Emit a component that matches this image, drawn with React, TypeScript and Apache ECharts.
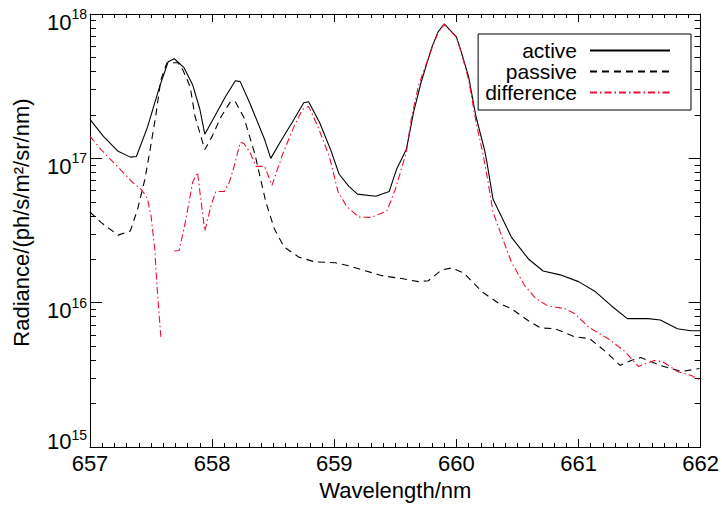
import React, { useEffect, useRef } from 'react';
import * as echarts from 'echarts';

// Wavelength (nm) and radiance (ph/s/m^2/sr/nm)
const activeWl = [657.0, 657.11, 657.23, 657.33, 657.38, 657.47, 657.57, 657.64, 657.69, 657.77, 657.84, 657.9, 657.94, 658.02, 658.11, 658.19, 658.23, 658.31, 658.43, 658.48, 658.57, 658.66, 658.75, 658.79, 658.88, 658.97, 659.04, 659.12, 659.19, 659.34, 659.45, 659.51, 659.59, 659.65, 659.71, 659.8, 659.85, 659.9, 660.0, 660.04, 660.1, 660.16, 660.23, 660.25, 660.3, 660.36, 660.45, 660.59, 660.71, 660.85, 661.0, 661.14, 661.27, 661.4, 661.57, 661.67, 661.81, 661.92, 662.0];
const activeVal = [1.86e17, 1.42e17, 1.12e17, 1.02e17, 1.03e17, 1.64e17, 3.14e17, 4.67e17, 4.9e17, 4.25e17, 3.24e17, 2.18e17, 1.47e17, 1.95e17, 2.68e17, 3.45e17, 3.4e17, 2.4e17, 1.35e17, 1.0e17, 1.35e17, 1.8e17, 2.43e17, 2.47e17, 1.77e17, 1.15e17, 7.76e16, 6.4e16, 5.65e16, 5.47e16, 5.9e16, 8.4e16, 1.15e17, 2.1e17, 3.34e17, 5.92e17, 7.52e17, 8.53e17, 6.94e17, 5.47e17, 3.68e17, 1.95e17, 1.15e17, 9.4e16, 5.2e16, 4.1e16, 2.85e16, 2.01e16, 1.66e16, 1.56e16, 1.4e16, 1.19e16, 9.5e15, 7.76e15, 7.76e15, 7.6e15, 6.6e15, 6.4e15, 6.4e15];

const passiveWl = [657.0, 657.09, 657.23, 657.33, 657.39, 657.45, 657.49, 657.54, 657.58, 657.63, 657.72, 657.76, 657.82, 657.86, 657.94, 658.0, 658.07, 658.15, 658.19, 658.26, 658.35, 658.44, 658.51, 658.59, 658.71, 658.84, 659.01, 659.12, 659.26, 659.39, 659.55, 659.69, 659.77, 659.88, 659.96, 660.06, 660.21, 660.34, 660.45, 660.59, 660.69, 660.81, 660.97, 661.09, 661.22, 661.34, 661.43, 661.51, 661.67, 661.84, 661.99];
const passiveVal = [4.25e16, 3.6e16, 2.94e16, 3.14e16, 4.45e16, 7.2e16, 1.12e17, 2.01e17, 3.5e17, 4.6e17, 4.6e17, 4.1e17, 3.14e17, 1.95e17, 1.15e17, 1.42e17, 1.92e17, 2.47e17, 2.47e17, 1.92e17, 1.07e17, 4.98e16, 3.24e16, 2.43e16, 2.07e16, 1.92e16, 1.89e16, 1.8e16, 1.66e16, 1.54e16, 1.47e16, 1.4e16, 1.42e16, 1.69e16, 1.74e16, 1.61e16, 1.19e16, 1.0e16, 9.1e15, 7.5e15, 6.7e15, 6.6e15, 5.8e15, 5.65e15, 4.6e15, 3.68e15, 3.98e15, 4.17e15, 3.68e15, 3.34e15, 3.5e15];

const diffWl = [657.0, 657.09, 657.23, 657.35, 657.42, 657.47, 657.5, 657.53, 657.55, 657.58, 657.63, 657.69, 657.73, 657.78, 657.84, 657.88, 657.94, 657.99, 658.03, 658.1, 658.14, 658.18, 658.23, 658.26, 658.31, 658.36, 658.43, 658.49, 658.57, 658.67, 658.74, 658.79, 658.86, 658.96, 659.03, 659.1, 659.2, 659.3, 659.43, 659.5, 659.59, 659.63, 659.69, 659.8, 659.85, 659.9, 660.0, 660.04, 660.1, 660.16, 660.22, 660.26, 660.3, 660.37, 660.45, 660.56, 660.65, 660.75, 660.89, 660.97, 661.08, 661.24, 661.38, 661.49, 661.62, 661.69, 661.81, 661.92, 662.0];
const diffVal = [1.42e17, 1.15e17, 8.7e16, 6.8e16, 6.1e16, 5.3e16, 3.98e16, 2.36e16, 1.25e16, 5.8e15, null, 2.28e16, 2.3e16, 3.6e16, 6.8e16, 8.0e16, 3.14e16, 4.67e16, 5.9e16, 5.9e16, 6.8e16, 8.8e16, 1.29e17, 1.27e17, 1.1e17, 8.8e16, 8.8e16, 6.5e16, 1.03e17, 1.66e17, 2.18e17, 2.29e17, 1.71e17, 1.03e17, 5.9e16, 4.67e16, 3.92e16, 3.9e16, 4.3e16, 6.1e16, 1.1e17, 1.86e17, 3.2e17, 5.8e17, 7.4e17, 8.5e17, 6.9e17, 5.4e17, 3.5e17, 1.8e17, 1.05e17, 6.8e16, 4.25e16, 2.9e16, 1.92e16, 1.31e16, 1.07e16, 9.5e15, 9.1e15, 8.4e15, 6.8e15, 5.65e15, 4.6e15, 3.62e15, 3.98e15, 3.9e15, 3.34e15, 3.14e15, 2.9e15];

const seriesNames = ['active', 'passive', 'difference'];
const xTitle = 'Wavelength/nm';
const yTitle = 'Radiance/(ph/s/m²/sr/nm)';
const xMin = 657;
const xMax = 662;
const yMinExp = 15;
const yMaxExp = 18;

const FONT = '"Liberation Sans", Arial, Helvetica, sans-serif';

function pairs(xs: number[], ys: (number | null)[]) {
  return xs.map((x, i) => [x, ys[i] === null ? '-' : ys[i]]);
}

function minorLogTicks(): number[] {
  const out: number[] = [];
  for (let e = yMinExp; e < yMaxExp; e++) {
    for (let k = 2; k <= 9; k++) out.push(e + Math.log10(k));
  }
  return out;
}

export default function App() {
  const ref = useRef<HTMLDivElement>(null);
  useEffect(() => {
    if (!ref.current) return;
    const chart = echarts.init(ref.current, undefined, { renderer: 'svg' });
    const black = '#000';
    const xBase = (pos: 'bottom' | 'top', labels: boolean) => ({
      type: 'value',
      position: pos,
      min: xMin,
      max: xMax,
      interval: 1,
      axisLine: { show: true, onZero: false, lineStyle: { color: black, width: 1 } },
      axisTick: { show: true, inside: true, length: 8, lineStyle: { color: black, width: 1 } },
      minorTick: { show: true, splitNumber: 10, length: 4, lineStyle: { color: black, width: 1 } },
      axisLabel: { show: labels, color: black, fontSize: 22, fontFamily: FONT, margin: 5 },
      splitLine: { show: false },
      minorSplitLine: { show: false },
    });
    const yLog = (pos: 'left' | 'right', labels: boolean) => ({
      type: 'log',
      logBase: 10,
      position: pos,
      min: Math.pow(10, yMinExp),
      max: Math.pow(10, yMaxExp),
      axisLine: { show: true, onZero: false, lineStyle: { color: black, width: 1 } },
      axisTick: { show: true, inside: true, length: 12, lineStyle: { color: black, width: 1 } },
      splitLine: { show: false },
      axisLabel: {
        show: labels,
        color: black,
        fontFamily: FONT,
        margin: 3,
        formatter: (v: number) => {
          const e = Math.round(Math.log10(v));
          return e === yMinExp ? `{bl|10}{sl|${e}}` : `{b|10}{s|${e}}`;
        },
        rich: {
          b: { fontSize: 22, fontFamily: FONT, color: black, padding: [16, 0, 0, 0] },
          s: { fontSize: 14, fontFamily: FONT, color: black },
          bl: { fontSize: 22, fontFamily: FONT, color: black, padding: [0, 0, 12, 0] },
          sl: { fontSize: 14, fontFamily: FONT, color: black, padding: [0, 0, 24, 0] },
        },
      },
    });
    const yMinor = (pos: 'left' | 'right') => ({
      type: 'value',
      position: pos,
      min: yMinExp,
      max: yMaxExp,
      axisLine: { show: false },
      axisTick: {
        show: true,
        inside: true,
        length: 6,
        customValues: minorLogTicks(),
        lineStyle: { color: black, width: 1 },
      },
      axisLabel: { show: false },
      splitLine: { show: false },
    });

    const yMain: any = yLog('left', true);
    yMain.name = yTitle;
    yMain.nameLocation = 'middle';
    yMain.nameRotate = 90;
    yMain.nameGap = 58;
    yMain.nameTextStyle = { fontSize: 22, fontFamily: FONT, color: black, padding: [0, 0, 0, 16] };

    const xMainAxis: any = xBase('bottom', true);
    xMainAxis.name = xTitle;
    xMainAxis.nameLocation = 'middle';
    xMainAxis.nameGap = 31;
    xMainAxis.nameTextStyle = { fontSize: 22, fontFamily: FONT, color: black };

    const option: any = {
      animation: false,
      backgroundColor: '#fff',
      grid: { left: 90, right: 19, top: 14, bottom: 57, containLabel: false },
      xAxis: [xMainAxis, xBase('top', false)],
      yAxis: [yMain, yLog('right', false), yMinor('left'), yMinor('right')],
      legend: {
        orient: 'vertical',
        right: 31,
        top: 34,
        align: 'right',
        itemWidth: 80,
        itemHeight: 14,
        itemGap: 0,
        padding: [6, 20, 7, 7],
        borderColor: black,
        borderWidth: 1,
        backgroundColor: '#fff',
        selectedMode: false,
        itemStyle: { opacity: 0 },
        textStyle: { fontSize: 21, fontFamily: FONT, color: black, lineHeight: 20.5, padding: [0, 8, 0, 0] },
        data: seriesNames,
      },
      series: [
        {
          name: seriesNames[0],
          type: 'line',
          data: pairs(activeWl, activeVal),
          symbol: 'none',
          xAxisIndex: 0,
          yAxisIndex: 0,
          color: black,
          lineStyle: { color: black, width: 1.1, type: 'solid' },
        },
        {
          name: seriesNames[1],
          type: 'line',
          data: pairs(passiveWl, passiveVal),
          symbol: 'none',
          xAxisIndex: 0,
          yAxisIndex: 0,
          color: black,
          lineStyle: { color: black, width: 1.1, type: [7, 5] },
        },
        {
          name: seriesNames[2],
          type: 'line',
          data: pairs(diffWl, diffVal),
          symbol: 'none',
          connectNulls: false,
          xAxisIndex: 0,
          yAxisIndex: 0,
          color: '#ee1133',
          lineStyle: { color: '#ee1133', width: 1.1, type: [7, 3, 1.5, 3] },
        },
      ],
    };
    chart.setOption(option);
    return () => chart.dispose();
  }, []);
  return (
    <div
      ref={ref}
      style={{ position: 'absolute', left: 0, top: 0, width: 722, height: 506, background: '#fff' }}
    />
  );
}
